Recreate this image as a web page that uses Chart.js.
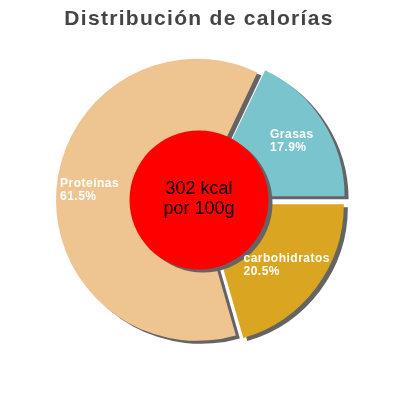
<!DOCTYPE html>
<html>
<head>
<meta charset="utf-8">
<script src="https://cdn.jsdelivr.net/npm/chart.js@4/dist/chart.umd.min.js"></script>
<style>
html, body { margin: 0; padding: 0; background: #fff; }
#wrap { width: 400px; height: 400px; }
</style>
</head>
<body>
<div id="wrap"><canvas id="chart"></canvas></div>
<script>
const titleText = 'Distribución de calorías';
const categories = ['carbohidratos', 'Proteínas', 'Grasas'];
const percents = [20.5, 61.5, 17.9];
const sliceColors = ['#daa520', '#eec591', '#7ac5cd'];
const centerLines = ['302 kcal', 'por 100g'];

const shadowColor = '#646464';

// shadows, red centre disc, slice labels and title
const decorPlugin = {
    id: 'decor',
    beforeDatasetsDraw(chart) {
        const ctx = chart.ctx;
        ctx.save();
        ctx.shadowColor = shadowColor;
        ctx.shadowOffsetX = 4;
        ctx.shadowOffsetY = 3;
        ctx.shadowBlur = 0;
    },
    afterDatasetsDraw(chart) {
        const ctx = chart.ctx;
        const meta = chart.getDatasetMeta(0);
        const first = meta.data[0];
        const cx = first.x;
        const cy = first.y;
        const outer = first.outerRadius;

        // centre disc, still with shadow on
        ctx.beginPath();
        ctx.arc(cx, cy, outer * 0.5, 0, Math.PI * 2);
        ctx.fillStyle = '#ff0000';
        ctx.fill();
        ctx.restore();

        ctx.save();
        ctx.fillStyle = '#000';
        ctx.font = '18px "Liberation Sans", Arial, sans-serif';
        ctx.textAlign = 'center';
        ctx.textBaseline = 'middle';
        ctx.fillText(centerLines[0], cx, cy - 11);
        ctx.fillText(centerLines[1], cx, cy + 9);

        // slice labels
        ctx.fillStyle = '#fff';
        ctx.font = 'bold 12px "Liberation Sans", Arial, sans-serif';
        ctx.letterSpacing = '0.5px';
        ctx.textAlign = 'left';
        meta.data.forEach((arc, i) => {
            const mid = (arc.startAngle + arc.endAngle) / 2;
            const dist = outer * 0.79;
            const px = cx + Math.cos(mid) * dist;
            const py = cy + Math.sin(mid) * dist;
            const lines = [categories[i], percents[i].toFixed(1) + '%'];
            const w = Math.max(...lines.map((l) => ctx.measureText(l).width));
            ctx.fillText(lines[0], px - w / 2, py - 7);
            ctx.fillText(lines[1], px - w / 2, py + 6);
        });

        // title
        ctx.fillStyle = '#444';
        ctx.font = 'bold 21px "Liberation Sans", Arial, sans-serif';
        ctx.letterSpacing = '1.3px';
        ctx.textAlign = 'center';
        ctx.textBaseline = 'alphabetic';
        ctx.fillText(titleText, 199, 25);
        ctx.restore();
    },
};

new Chart(document.getElementById('chart'), {
    type: 'pie',
    data: {
        labels: categories,
        datasets: [{
            data: percents,
            backgroundColor: sliceColors,
            borderWidth: 0,
            // Chart.js moves a slice by offset / 4 px
            offset: [28, 8, 28],
        }],
    },
    options: {
        responsive: true,
        maintainAspectRatio: false,
        animation: false,
        events: [],
        rotation: 90,
        radius: 139,
        layout: { padding: { right: 2 } },
        plugins: {
            legend: { display: false },
            tooltip: { enabled: false },
            title: { display: false },
        },
    },
    plugins: [decorPlugin],
});
</script>
</body>
</html>
